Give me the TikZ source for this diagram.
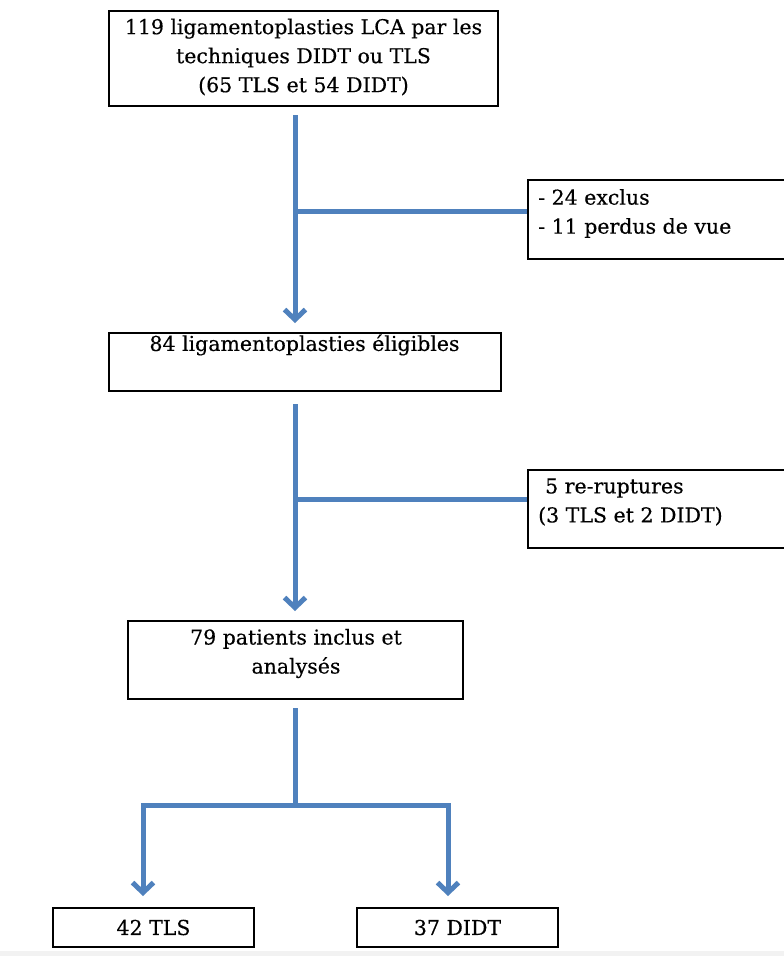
\documentclass[tikz,border=0pt]{standalone}
\usepackage{fontspec}
\setmainfont{DejaVu Serif}[FakeBold=0.35]
\usetikzlibrary{arrows.meta,calc}
\definecolor{arrblue}{RGB}{79,129,189}
\definecolor{bandgray}{RGB}{242,242,242}
\begin{document}
\begin{tikzpicture}[x=1pt,y=-1pt,
  box/.style={draw=black,line width=2pt,rectangle,inner sep=0pt,fill=white},
  txt/.style={inner sep=0pt,font=\fontsize{20.5}{29}\selectfont,text=black},
  conn/.style={draw=arrblue,line width=5pt},
  arr/.style={conn,-{Straight Barb[length=10pt,width=21pt,line width=5pt]}}]
\useasboundingbox (0,0) rectangle (784,956);
\clip (0,0) rectangle (784,956);
\fill[white] (0,0) rectangle (784,956);
\fill[bandgray] (0,951) rectangle (784,956);

% boxes
\node[box,minimum width=389pt,minimum height=95pt] (b1) at (303.5,58.5) {};
\node[txt,align=center] (b1t) at (303.5,57) {119 ligamentoplasties LCA par les\\techniques DIDT ou TLS\\(65 TLS et 54 DIDT)};

\node[box,minimum width=392pt,minimum height=58pt] (b2) at (305,362) {};
\node[txt] (b2t) at (304.5,345) {84 ligamentoplasties éligibles};

\node[box,minimum width=335pt,minimum height=78pt] (b3) at (295.5,660) {};
\node[txt,align=center] (b3t) at (296,653.5) {79 patients inclus et\\analysés};

\node[box,minimum width=273pt,minimum height=79pt,anchor=north west] (s1) at (527,179) {};
\node[txt,align=left,anchor=west] (s1t) at (538,213.5) {- 24 exclus\\- 11 perdus de vue};

\node[box,minimum width=273pt,minimum height=78pt,anchor=north west] (s2) at (527,469) {};
\node[txt,align=left,anchor=west] (s2t) at (538,502) {\hspace{7pt}5 re-ruptures\\(3 TLS et 2 DIDT)};

\node[box,minimum width=201pt,minimum height=39pt] (t1) at (153.5,927.5) {};
\node[txt] (t1t) at (153.5,927.5) {42 TLS};

\node[box,minimum width=201pt,minimum height=39pt] (t2) at (457.5,927.5) {};
\node[txt] (t2t) at (457.5,927.5) {37 DIDT};

% connectors
\coordinate (a1s) at (295,115);
\coordinate (br1) at (295,211);
\draw[arr,shorten >=9pt] (a1s) -- (a1s |- b2.north);
\draw[conn] (br1) -- (br1 -| s1.west);

\coordinate (a2s) at (295,404);
\coordinate (br2) at (295,499);
\draw[arr,shorten >=9pt] (a2s) -- (a2s |- b3.north);
\draw[conn] (br2) -- (br2 -| s2.west);

\coordinate (a3s) at (295,708);
\coordinate (j) at (295,805);
\coordinate (jl) at (143,805);
\coordinate (jr) at (448,805);
\draw[conn] (a3s) -- (j);
\draw[arr,shorten >=11pt,line join=miter] (j) -- (jl) -- (jl |- t1.north);
\draw[arr,shorten >=11pt,line join=miter] (j) -- (jr) -- (jr |- t2.north);
\end{tikzpicture}
\end{document}
